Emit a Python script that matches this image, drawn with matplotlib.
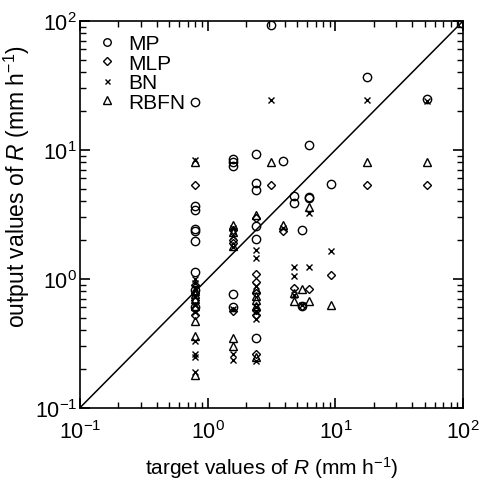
import matplotlib
matplotlib.use("Agg")
import matplotlib.pyplot as plt

plt.rcParams["font.family"] = ["Liberation Sans", "DejaVu Sans"]
plt.rcParams["mathtext.fontset"] = "custom"
plt.rcParams["mathtext.rm"] = "Liberation Sans"
plt.rcParams["mathtext.it"] = "Liberation Sans:italic"

# target / output rain rates (mm/h)
mp_target = [0.8] * 9 + [1.59] * 5 + [2.37] * 6 + [3.11, 3.87, 4.7, 4.7, 5.45, 5.45,
             6.17, 6.17, 6.17, 9.3, 17.7, 52, 97]
mp_output = [23.4, 3.7, 3.4, 2.45, 2.33, 1.95, 1.13, 0.82, 0.6,
             8.5, 8.0, 7.5, 0.76, 0.61,
             9.3, 5.5, 4.85, 2.56, 2.04, 0.35,
             93, 8.2, 4.35, 3.87, 2.4, 0.62,
             10.9, 4.3, 4.2, 5.4, 36.6, 24.8, 97]

mlp_target = [0.8] * 6 + [1.59] * 4 + [2.37] * 7 + [3.11, 3.87, 4.7, 5.45, 6.17, 9.3,
              17.7, 52]
mlp_output = [5.3, 0.9, 0.78, 0.68, 0.58, 0.52,
              2.4, 2.0, 1.9, 0.56,
              2.95, 1.09, 0.94, 0.78, 0.57, 0.52, 0.26,
              5.3, 2.35, 0.85, 0.62, 0.84, 1.07, 5.3, 5.3]

bn_target = [0.8] * 11 + [1.59] * 6 + [2.37] * 7 + [3.11, 3.87, 4.7, 4.7, 4.7, 5.45,
             6.17, 6.17, 9.3, 17.7, 52]
bn_output = [8.3, 1.0, 0.93, 0.85, 0.72, 0.63, 0.55, 0.33, 0.26, 0.25, 0.19,
             2.5, 2.15, 1.75, 0.58, 0.26, 0.235,
             1.67, 1.46, 0.88, 0.6, 0.55, 0.49, 0.23,
             24.5, 2.5, 1.23, 1.06, 0.75, 0.63,
             3.25, 1.23, 1.63, 24.5, 24.0]

rbfn_target = [0.8] * 8 + [1.59] * 5 + [2.37] * 6 + [3.11, 3.87, 4.7, 4.7, 5.45,
               6.17, 6.17, 9.3, 17.7, 52]
rbfn_output = [8.1, 0.8, 0.76, 0.7, 0.62, 0.47, 0.36, 0.18,
               2.6, 2.3, 1.8, 0.35, 0.30,
               3.1, 0.84, 0.74, 0.68, 0.62, 0.25,
               8.1, 2.6, 0.78, 0.67, 0.83, 3.6, 0.67, 0.63, 8.1, 8.1]

fig = plt.figure(figsize=(4.81, 4.85), dpi=100)
ax = fig.add_axes([0.166, 0.157, 0.797, 0.798])

ms = 6
kw = dict(linestyle="none", markerfacecolor="none", markeredgecolor="black",
          markeredgewidth=1.0, color="black")
ax.plot(mp_target, mp_output, marker="o", markersize=ms, label="MP", **kw)
ax.plot(mlp_target, mlp_output, marker="D", markersize=ms - 1.5, label="MLP", **kw)
ax.plot(bn_target, bn_output, marker="x", markersize=ms - 2, label="BN", **kw)
ax.plot(rbfn_target, rbfn_output, marker="^", markersize=ms, label="RBFN", **kw)

ax.plot([0.1, 100], [0.1, 100], color="black", linewidth=1.1)

ax.set_xscale("log")
ax.set_yscale("log")
ax.set_xlim(0.1, 100)
ax.set_ylim(0.1, 100)

ax.tick_params(which="both", direction="in", top=True, right=True, labelsize=15.5)
ax.tick_params(which="major", length=7, width=1.2)
ax.tick_params(which="minor", length=4, width=1.0)
ax.tick_params(axis="x", pad=9)
ax.tick_params(axis="y", pad=2)
for s in ax.spines.values():
    s.set_linewidth(1.2)

ax.set_xlabel(r"target values of $\it{R}$ (mm h$^{-1}$)", fontsize=15, labelpad=8)
ax.set_ylabel(r"output values of $\it{R}$ (mm h$^{-1}$)", fontsize=16.5)
ax.yaxis.set_label_coords(-0.125, 0.575)

ax.legend(loc="upper left", frameon=False, fontsize=15, handletextpad=0.35,
          labelspacing=0.02, borderaxespad=0.25, handlelength=1.3,
          markerscale=0.9, bbox_to_anchor=(0.0, 1.0))

fig.savefig("out.png", dpi=100)
